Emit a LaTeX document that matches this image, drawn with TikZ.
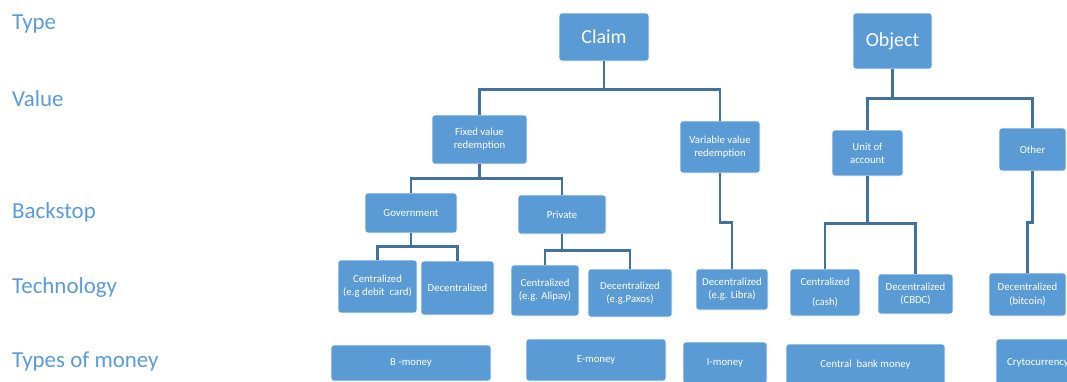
\documentclass[tikz,border=0pt]{standalone}
\usepackage{fontspec}
\setmainfont{Carlito}
\definecolor{boxblue}{HTML}{5B9BD5}
\definecolor{linkblue}{HTML}{41719C}
\definecolor{lblblue}{HTML}{5B9BD5}
\tikzset{
  box/.style={rectangle, rounded corners=3bp, fill=boxblue, draw=white, line width=0.6bp,
    text=white, align=center, inner sep=0pt, font=\fontsize{10.8}{13.3}\selectfont},
  bigbox/.style={box, font=\fontsize{20}{24}\selectfont},
  link/.style={draw=linkblue, line width=2.5bp},
  rowlabel/.style={anchor=base west, inner sep=0pt, text=lblblue, font=\fontsize{23}{27}\selectfont}
}
\begin{document}
\begin{tikzpicture}[x=1bp, y=-1bp]
\useasboundingbox (0,0) rectangle (1067,381);
\clip (0,0) rectangle (1067,381);

% row labels
\node[rowlabel] (lt) at (12,29) {Type};
\node[rowlabel] (lv) at (12,106) {Value};
\node[rowlabel] (lb) at (12,218) {Backstop};
\node[rowlabel] (ltc) at (12,293) {Technology};
\node[rowlabel] (lm) at (12,367) {Types of money};

% type
\node[bigbox, minimum width=90bp, minimum height=48bp] (claim) at (604,37) {Claim};
\node[bigbox, minimum width=79bp, minimum height=56bp] (object) at (892.5,41) {Object};

% value
\node[box, minimum width=95bp, minimum height=49bp] (fixed) at (479.5,139.5) {Fixed value\\redemption};
\node[box, minimum width=80bp, minimum height=52bp] (variable) at (720,147) {Variable value\\redemption};
\node[box, minimum width=71bp, minimum height=46bp] (unit) at (867.5,153) {Unit of\\account};
\node[box, minimum width=67bp, minimum height=43bp] (other) at (1032.5,149.5) {Other};

% backstop
\node[box, minimum width=92bp, minimum height=40bp] (gov) at (411,213) {Government};
\node[box, minimum width=88bp, minimum height=39bp] (priv) at (562,214.5) {Private};

% technology
\node[box, minimum width=79bp, minimum height=53bp] (c1) at (377.5,286.5) {Centralized\\(e.g debit\ \ card)};
\node[box, minimum width=73bp, minimum height=54bp] (d1) at (457.5,288) {Decentralized};
\node[box, minimum width=68bp, minimum height=51bp] (c2) at (545,290.5) {Centralized\\(e.g. Alipay)};
\node[box, minimum width=84bp, minimum height=48bp] (d2) at (630,293) {Decentralized\\(e.g.Paxos)};
\node[box, minimum width=72bp, minimum height=41bp] (d3) at (732,289.5) {Decentralized\\(e.g. Libra)};
\node[box, minimum width=70bp, minimum height=47bp] (c4) at (825,292.5) {Centralized\\[6bp](cash)};
\node[box, minimum width=75bp, minimum height=40bp] (d4) at (915.5,294) {Decentralized\\(CBDC)};
\node[box, minimum width=77bp, minimum height=43bp] (d5) at (1027.5,294.5) {Decentralized\\(bitcoin)};

% types of money
\node[box, minimum width=160bp, minimum height=36bp] (m1) at (411,363) {B -money};
\node[box, minimum width=140bp, minimum height=42bp] (m2) at (596,360) {E-money};
\node[box, minimum width=84bp, minimum height=42bp] (m3) at (725,363) {I-money};
\node[box, minimum width=159bp, minimum height=42bp] (m4) at (865.5,365) {Central\ \ bank money};
\node[box, minimum width=84bp, minimum height=48bp] (m5) at (1038,363) {Crytocurrency};

% connectors
\draw[link] (claim.south) -- ++(0,28) -| (fixed.north);
\draw[link] (claim.south) -- ++(0,28) -| (variable.north);
\draw[link] (object.south) -- ++(0,29) -| (unit.north);
\draw[link] (object.south) -- ++(0,29) -| (other.north);
\draw[link] (fixed.south) -- ++(0,14) -| (gov.north);
\draw[link] (fixed.south) -- ++(0,14) -| (priv.north);
\draw[link] (variable.south) -- ++(0,49) -| (d3.north);
\draw[link] (gov.south) -- ++(0,13) -| (c1.north);
\draw[link] (gov.south) -- ++(0,13) -| (d1.north);
\draw[link] (priv.south) -- ++(0,16) -| (c2.north);
\draw[link] (priv.south) -- ++(0,16) -| (d2.north);
\draw[link] (unit.south) -- ++(0,47) -| (c4.north);
\draw[link] (unit.south) -- ++(0,47) -| (d4.north);
\draw[link] (other.south) -- ++(0,51) -| (d5.north);
\end{tikzpicture}
\end{document}
